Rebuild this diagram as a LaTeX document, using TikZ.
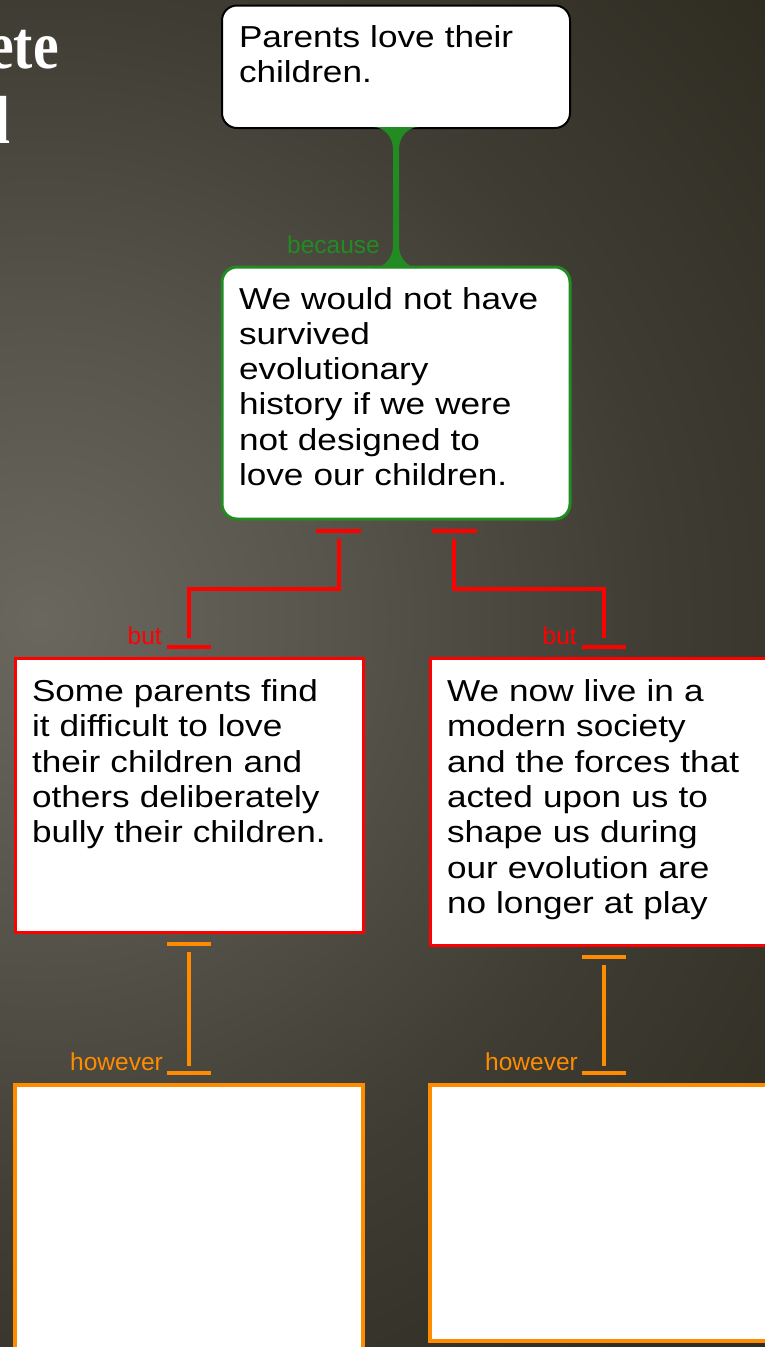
\documentclass[tikz,border=0pt]{standalone}
\usepackage{fontspec}
\setmainfont{Liberation Sans}
\newfontfamily\boxfont[FakeStretch=1.16]{Liberation Sans}
\newfontfamily\headfont[FakeStretch=0.85]{Liberation Serif Bold}
\usetikzlibrary{calc}

% background and map colours
\definecolor{bgA}{HTML}{6A675F}
\definecolor{bgB}{HTML}{57544B}
\definecolor{bgC}{HTML}{3F3C33}
\definecolor{bgD}{HTML}{2F2C22}
\definecolor{bgE}{HTML}{2E2B21}
\definecolor{mapgreen}{HTML}{228B22}
\definecolor{mapred}{HTML}{FF0000}
\definecolor{maporange}{HTML}{FF8C00}

\pgfdeclareradialshading{bgglow}{\pgfpoint{0bp}{0bp}}{%
  color(0bp)=(bgA); color(6.8bp)=(bgB); color(14.1bp)=(bgC);
  color(21.6bp)=(bgD); color(50bp)=(bgE)}

\begin{document}
\begin{tikzpicture}[x=1pt,y=-1pt,
  card/.style={draw, fill=white, anchor=north west, outer sep=0pt,
    inner xsep=17pt, inner ysep=0pt, text width=314pt, align=left,
    font=\boxfont\fontsize{30.3pt}{35.3pt}\selectfont},
  claimcard/.style={card, draw=black, line width=2pt, rounded corners=15pt},
  reasoncard/.style={card, draw=mapgreen, line width=3pt, rounded corners=15pt},
  objcard/.style={card, draw=mapred, line width=3pt},
  rebutcard/.style={card, draw=maporange, line width=4pt},
  linklabel/.style={anchor=base east, inner sep=0pt, font=\fontsize{24.5pt}{28pt}\selectfont},
  heading/.style={anchor=base east, inner sep=0pt, text=white,
    font=\headfont\fontsize{68pt}{72pt}\selectfont},
  redlink/.style={draw=mapred, line width=3.8pt},
  orangelink/.style={draw=maporange, line width=4.4pt},
]
\useasboundingbox (0,0) rectangle (765,1347);
\clip (0,0) rectangle (765,1347);

% backdrop: dark base with a soft glow from the left
\fill[bgE] (0,0) rectangle (765,1347);
\shade[shading=bgglow] (40,620) circle (1100);

% slide heading, running in from the left edge
\node[heading] (headA) at (59,68) {ete};
\node[heading] (headB) at (11,143) {l};

% boxes
\node[claimcard, text height=41.5pt, text depth=81pt] (claim) at (222,5.5)
  {Parents love their\\children.};
\node[reasoncard, text height=42pt, text depth=210pt] (reason) at (222,267)
  {We would not have\\survived\\evolutionary\\history if we were\\not designed to\\love our children.};
\node[objcard, text height=43.5pt, text depth=230.5pt] (objA) at (15,658)
  {Some parents find\\it difficult to love\\their children and\\others deliberately\\bully their children.};
\node[objcard, text height=43.5pt, text depth=243.5pt] (objB) at (430,658)
  {We now live in a\\modern society\\and the forces that\\acted upon us to\\shape us during\\our evolution are\\no longer at play};
\node[rebutcard, text height=47pt, text depth=238pt] (rebA) at (15,1085) {};
\node[rebutcard, text height=47pt, text depth=209pt] (rebB) at (430,1085) {};

% supporting link: stem with flared ends
\fill[mapgreen]
  ($(claim.south)+(-23,-1)$) -- ($(claim.south)+(23,-1)$)
  .. controls ($(claim.south)+(11,-1)$) and ($(claim.south)+(3,10)$) .. ($(claim.south)+(3,21)$)
  -- ($(reason.north)+(3,-21)$)
  .. controls ($(reason.north)+(3,-10)$) and ($(reason.north)+(11,1)$) .. ($(reason.north)+(23,1)$)
  -- ($(reason.north)+(-23,1)$)
  .. controls ($(reason.north)+(-11,1)$) and ($(reason.north)+(-3,-10)$) .. ($(reason.north)+(-3,-21)$)
  -- ($(claim.south)+(-3,21)$)
  .. controls ($(claim.south)+(-3,10)$) and ($(claim.south)+(-11,-1)$) .. cycle;
\node[linklabel, text=mapgreen] (lblBecause) at ($(reason.north)+(-16,-14)$) {because};

% objection links
\draw[redlink] ($(reason.south)+(-80,12)$) -- ($(reason.south)+(-35,12)$);
\draw[redlink] ($(reason.south)+(-57,20)$) -- ++(0,50) -| ($(objA.north)+(0,-20)$);
\draw[redlink] ($(objA.north)+(-22,-11)$) -- ($(objA.north)+(22,-11)$);
\node[linklabel, text=mapred] (lblButA) at ($(objA.north)+(-27,-14)$) {but};

\draw[redlink] ($(reason.south)+(36,12)$) -- ($(reason.south)+(81,12)$);
\draw[redlink] ($(reason.south)+(58,20)$) -- ++(0,50) -| ($(objB.north)+(0,-20)$);
\draw[redlink] ($(objB.north)+(-22,-11)$) -- ($(objB.north)+(22,-11)$);
\node[linklabel, text=mapred] (lblButB) at ($(objB.north)+(-27,-14)$) {but};

% rebuttal links
\draw[orangelink] ($(objA.south)+(-22,12)$) -- ($(objA.south)+(22,12)$);
\draw[orangelink] ($(objA.south)+(0,20)$) -- ($(rebA.north)+(0,-19)$);
\draw[orangelink] ($(rebA.north)+(-22,-12)$) -- ($(rebA.north)+(22,-12)$);
\node[linklabel, text=maporange] (lblHowA) at ($(rebA.north)+(-26,-15)$) {however};

\draw[orangelink] ($(objB.south)+(-22,12)$) -- ($(objB.south)+(22,12)$);
\draw[orangelink] ($(objB.south)+(0,20)$) -- ($(rebB.north)+(0,-19)$);
\draw[orangelink] ($(rebB.north)+(-22,-12)$) -- ($(rebB.north)+(22,-12)$);
\node[linklabel, text=maporange] (lblHowB) at ($(rebB.north)+(-26,-15)$) {however};
\end{tikzpicture}
\end{document}
